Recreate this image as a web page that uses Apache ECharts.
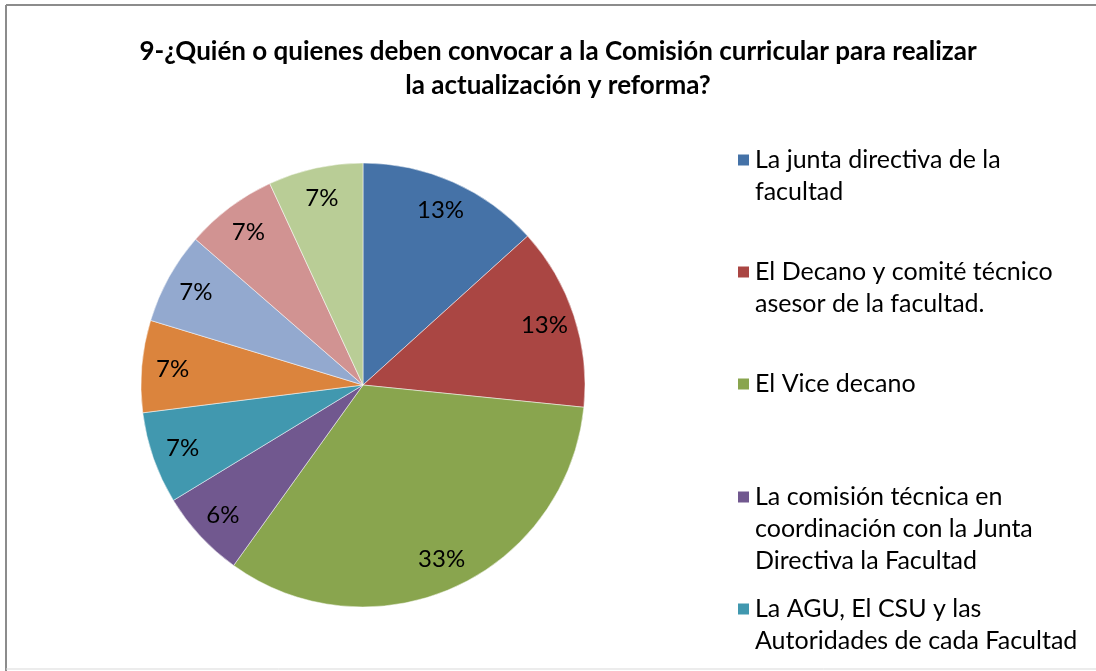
<!DOCTYPE html>
<html>
<head>
<meta charset="utf-8">
<script src="https://cdn.jsdelivr.net/npm/echarts@6/dist/echarts.min.js"></script>
<style>
    html, body { margin: 0; padding: 0; background: #fff; }
    #pie-chart { width: 1096px; height: 671px; }
</style>
</head>
<body>
<div id="pie-chart"></div>
<script>
// categorias (solo las 5 primeras aparecen en la leyenda)
var categorias = [
    'La junta directiva de la facultad',
    'El Decano y comité técnico asesor de la facultad.',
    'El Vice decano',
    'La comisión técnica en coordinación con la Junta Directiva la Facultad',
    'La AGU, El CSU y las Autoridades de cada Facultad',
    'Opción 6',
    'Opción 7',
    'Opción 8',
    'Opción 9'
];
// texto de la leyenda con saltos de linea como en el original
var leyendaTexto = [
    'La junta directiva de la\nfacultad',
    'El Decano y comité técnico\nasesor de la facultad.',
    'El Vice decano',
    'La comisión técnica en\ncoordinación con la Junta\nDirectiva la Facultad',
    'La AGU, El CSU y las\nAutoridades de cada Facultad'
];
// porcentajes
var valores = [13.3, 13.3, 33.3, 6.4, 6.7, 6.7, 6.7, 6.7, 6.9];
var colores = ['#4572A7', '#AA4643', '#89A54E', '#71588F', '#4198AF',
               '#DB843D', '#93A9CF', '#D19392', '#B9CD96'];

var fuente = 'Lato, "Open Sans", sans-serif';

var dom = document.getElementById('pie-chart');
var myChart = echarts.init(dom, null, {renderer: 'canvas'});

var data = [];
for (var i = 0; i < categorias.length; i++) {
    data.push({name: categorias[i], value: valores[i]});
}

// posicion de la primera linea de cada entrada de la leyenda
var leyendaY = [160, 272, 384, 497, 609];
var lineH = 32;
var legends = [];
for (var k = 0; k < leyendaTexto.length; k++) {
    var n = leyendaTexto[k].split('\n').length;
    // lineas vacias arriba para que el cuadro quede junto a la primera linea
    var txt = new Array(n).join('\n') + leyendaTexto[k];
    legends.push({
        data: [categorias[k]],
        left: 736,
        top: leyendaY[k] - (2 * n - 1) * lineH / 2,
        padding: 0,
        itemWidth: 13,
        itemHeight: 13,
        itemGap: 6,
        icon: 'rect',
        selectedMode: false,
        formatter: (function (t) { return function () { return t; }; })(txt),
        textStyle: {
            fontFamily: fuente,
            fontSize: 25,
            color: '#000',
            lineHeight: lineH
        }
    });
}

var option = {
    backgroundColor: '#fff',
    animation: false,
    color: colores,
    title: {
        text: '9-¿Quién o quienes deben convocar a la Comisión curricular para realizar\nla actualización y reforma?',
        left: 553,
        textAlign: 'center',
        top: 30,
        textStyle: {
            fontFamily: fuente,
            fontSize: 26,
            fontWeight: 'bold',
            color: '#000',
            lineHeight: 34
        }
    },
    legend: legends,
    graphic: [
        {type: 'line', shape: {x1: 6, y1: 5, x2: 1096, y2: 5}, style: {stroke: '#8c8c8c', lineWidth: 2}},
        {type: 'line', shape: {x1: 6, y1: 5, x2: 6, y2: 671}, style: {stroke: '#8c8c8c', lineWidth: 2}},
        {type: 'line', shape: {x1: 6, y1: 669, x2: 1096, y2: 669}, style: {stroke: '#d9d9d9', lineWidth: 1}}
    ],
    series: [
        {
            type: 'pie',
            center: [363, 385],
            radius: [0, 222],
            startAngle: 90,
            clockwise: true,
            data: data,
            label: {show: false},
            labelLine: {show: false},
            itemStyle: {borderColor: '#fff', borderWidth: 0.5},
            emphasis: {disabled: true}
        },
        {
            // capa transparente solo para ubicar las etiquetas
            type: 'pie',
            center: [363, 385],
            radius: [154, 222],
            startAngle: 90,
            clockwise: true,
            silent: true,
            data: data,
            itemStyle: {color: 'rgba(0,0,0,0)'},
            label: {
                show: true,
                position: 'inside',
                fontFamily: fuente,
                fontSize: 24,
                color: '#000',
                formatter: function (p) {
                    return Math.round(p.value) + '%';
                }
            },
            labelLine: {show: false},
            emphasis: {disabled: true}
        }
    ]
};

if (option && typeof option === "object") {
    myChart.setOption(option, true);
}
</script>
</body>
</html>
